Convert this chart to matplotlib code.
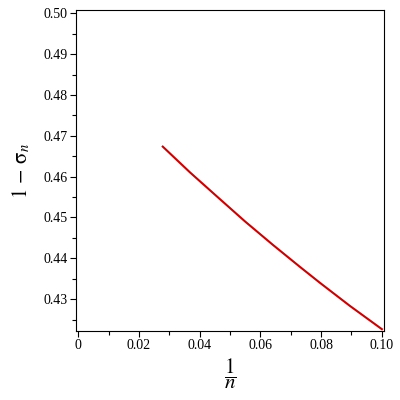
import matplotlib
matplotlib.use("Agg")
import matplotlib.pyplot as plt
from matplotlib.ticker import MultipleLocator, FormatStrFormatter

inv_n = [0.02786, 0.03684, 0.04605, 0.05493, 0.06414, 0.07303, 0.07961, 0.08947, 0.1000]
one_minus_sigma = [0.46735, 0.46103, 0.45491, 0.44904, 0.44328, 0.43790, 0.43400, 0.42835, 0.42265]

x_ticks = [0, 0.02, 0.04, 0.06, 0.08, 0.10]
x_tick_labels = ["0", "0.02", "0.04", "0.06", "0.08", "0.10"]
y_ticks = [0.43, 0.44, 0.45, 0.46, 0.47, 0.48, 0.49, 0.50]

plt.rcParams['font.family'] = ['Liberation Serif', 'DejaVu Serif']
plt.rcParams['mathtext.fontset'] = 'stix'

fig = plt.figure(figsize=(4, 4), dpi=100)
ax = fig.add_axes([0.19, 0.1725, 0.77, 0.8015])
ax.plot(inv_n, one_minus_sigma, color='#cc0000', lw=1.5, solid_joinstyle='round')

ax.set_xlim(-0.0007, 0.1007)
ax.set_ylim(0.4222, 0.5007)
ax.set_xticks(x_ticks)
ax.set_xticklabels(x_tick_labels)
ax.set_yticks(y_ticks)
ax.yaxis.set_major_formatter(FormatStrFormatter('%.2f'))
ax.xaxis.set_minor_locator(MultipleLocator(0.01))
ax.yaxis.set_minor_locator(MultipleLocator(0.005))
ax.tick_params(axis='both', which='major', direction='out', length=4, width=0.8, labelsize=10, pad=2)
ax.tick_params(axis='both', which='minor', direction='out', length=3, width=0.8)
for s in ax.spines.values():
    s.set_linewidth(0.8)

ax.set_xlabel(r'$\dfrac{1}{n}$', fontsize=15, labelpad=3)
ax.set_ylabel(r'$1\,-\,\mathrm{\sigma}_{n}$', fontsize=15, labelpad=8)

fig.savefig('out.png', dpi=100)
